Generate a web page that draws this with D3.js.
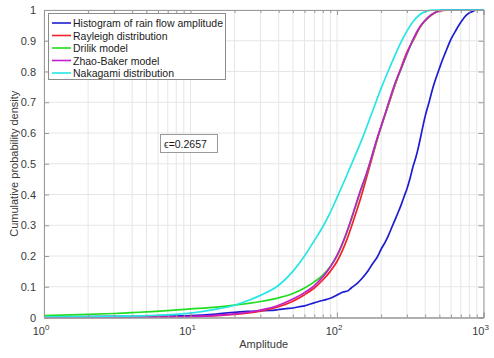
<!DOCTYPE html>
<html>
<head>
<meta charset="utf-8">
<script src="https://cdn.jsdelivr.net/npm/d3@7"></script>
<style>
  html, body { margin: 0; padding: 0; background: #fff; }
  svg { display: block; font-family: "Liberation Sans", Arial, sans-serif; }
</style>
</head>
<body>
<svg id="chart" width="494" height="358"></svg>
<script>
// Cumulative distributions of rain-flow amplitude (x: amplitude, y: CDF)
const histAmp = [1, 2, 5, 10, 15, 20, 25, 30, 35, 40, 45, 50, 55, 60, 68, 75, 85, 92, 100, 110, 118, 125, 138, 150, 163, 175, 188, 200, 212, 225, 238, 250, 262, 275, 288, 300, 315, 330, 345, 360, 380, 400, 425, 450, 475, 500, 525, 550, 575, 600, 650, 700, 770, 850, 900, 1000];
const histCdf = [0.002, 0.003, 0.004, 0.006, 0.011, 0.017, 0.020, 0.022, 0.023, 0.026, 0.029, 0.031, 0.035, 0.038, 0.046, 0.052, 0.059, 0.064, 0.073, 0.083, 0.086, 0.096, 0.112, 0.130, 0.152, 0.175, 0.196, 0.222, 0.243, 0.268, 0.296, 0.320, 0.343, 0.368, 0.395, 0.418, 0.452, 0.490, 0.520, 0.555, 0.607, 0.655, 0.700, 0.745, 0.780, 0.810, 0.838, 0.862, 0.885, 0.905, 0.935, 0.960, 0.985, 0.996, 1.0, 1.0];

const rayAmp = [1, 5, 10, 15, 20, 25, 30, 40, 50, 60, 70, 80, 90, 100, 115, 130, 145, 168, 194, 224, 268, 300, 337, 370, 420, 470, 530, 600, 1000];
const rayCdf = [0.0, 0.001, 0.003, 0.006, 0.010, 0.015, 0.021, 0.035, 0.053, 0.074, 0.096, 0.122, 0.150, 0.182, 0.245, 0.318, 0.388, 0.495, 0.600, 0.690, 0.800, 0.862, 0.908, 0.945, 0.975, 0.992, 0.999, 1.0, 1.0];

const drilikAmp = [1, 2, 3, 5, 10, 15, 20, 30, 40, 50, 60, 70, 80, 90, 100, 115, 130, 145, 160, 185, 215, 250, 276, 300, 333, 370, 420, 470, 530, 1000];
const drilikCdf = [0.006, 0.010, 0.013, 0.018, 0.028, 0.034, 0.040, 0.052, 0.064, 0.078, 0.096, 0.116, 0.138, 0.166, 0.200, 0.268, 0.342, 0.412, 0.470, 0.570, 0.666, 0.762, 0.812, 0.856, 0.906, 0.946, 0.977, 0.993, 1.0, 1.0];

const zhaoAmp = [1, 5, 10, 15, 20, 25, 30, 40, 50, 60, 70, 80, 90, 100, 115, 130, 145, 160, 185, 215, 250, 276, 300, 333, 370, 420, 470, 530, 1000];
const zhaoCdf = [0.0, 0.001, 0.003, 0.007, 0.012, 0.017, 0.024, 0.040, 0.060, 0.081, 0.104, 0.132, 0.164, 0.202, 0.270, 0.345, 0.415, 0.472, 0.572, 0.668, 0.764, 0.814, 0.858, 0.908, 0.947, 0.977, 0.993, 1.0, 1.0];

const nakaAmp = [1, 2, 3, 5, 8, 10, 15, 20, 25, 30, 40, 50, 60, 70, 80, 90, 100, 126, 151, 173, 200, 223, 250, 280, 330, 370, 420, 450, 1000];
const nakaCdf = [0.002, 0.003, 0.004, 0.006, 0.010, 0.014, 0.027, 0.040, 0.056, 0.072, 0.105, 0.150, 0.200, 0.250, 0.295, 0.342, 0.390, 0.500, 0.590, 0.665, 0.745, 0.800, 0.855, 0.905, 0.962, 0.986, 0.998, 1.0, 1.0];

const seriesNames = ["Histogram of rain flow amplitude", "Rayleigh distribution", "Drilik model", "Zhao-Baker model", "Nakagami distribution"];
const seriesColors = ["#1c1cd2", "#f2222a", "#22dd22", "#c21fcb", "#26e6e6"];
const yTicks = [0, 0.1, 0.2, 0.3, 0.4, 0.5, 0.6, 0.7, 0.8, 0.9, 1];
const xDecades = [1, 10, 100, 1000];
const xDecadeExp = ["0", "1", "2", "3"];
const epsilonLabel = "\u03F5=0.2657";

const series = [
  [histAmp, histCdf], [rayAmp, rayCdf], [drilikAmp, drilikCdf], [zhaoAmp, zhaoCdf], [nakaAmp, nakaCdf]
];

const svg = d3.select("#chart");
const plotL = 44, plotR = 483.5, plotT = 10, plotB = 317.5;

const x = d3.scaleLog().domain([1, 1000]).range([plotL, plotR]);
const y = d3.scaleLinear().domain([0, 1]).range([plotB, plotT]);

// minor tick positions 2..9 per decade
const minorVals = [];
for (let d = 0; d < 3; d++) for (let m = 2; m <= 9; m++) minorVals.push(m * Math.pow(10, d));

const grid = svg.append("g");
grid.selectAll("line.vx").data(minorVals.concat(xDecades)).enter().append("line")
  .attr("x1", d => x(d)).attr("x2", d => x(d))
  .attr("y1", plotT).attr("y2", plotB)
  .attr("stroke", "#e6e6e6").attr("stroke-width", 1);
grid.selectAll("line.hy").data(yTicks).enter().append("line")
  .attr("x1", plotL).attr("x2", plotR)
  .attr("y1", d => y(d)).attr("y2", d => y(d))
  .attr("stroke", "#e6e6e6").attr("stroke-width", 1);

// Curves
const line = d3.line().x(d => x(d[0])).y(d => y(d[1])).curve(d3.curveMonotoneX);
series.forEach((s, i) => {
  const pts = s[0].map((a, k) => [a, s[1][k]]);
  svg.append("path").datum(pts)
    .attr("d", line)
    .attr("fill", "none")
    .attr("stroke", seriesColors[i])
    .attr("stroke-width", 1.7)
    .attr("stroke-linejoin", "round");
});

// Axes box and inward ticks
const axisColor = "#9a9a9a";
const textColor = "#3a3a3a";
const yLeft = d3.axisLeft(y).tickValues(yTicks).tickSize(-5).tickPadding(8).tickFormat(d3.format("~g"));
const gy = svg.append("g").attr("transform", `translate(${plotL},0)`).call(yLeft);
const yRight = d3.axisRight(y).tickValues(yTicks).tickSize(-5).tickFormat("");
svg.append("g").attr("transform", `translate(${plotR},0)`).call(yRight);

const xBottom = d3.axisBottom(x).tickValues(xDecades).tickSize(-5).tickFormat("");
svg.append("g").attr("transform", `translate(0,${plotB})`).call(xBottom);
const xTop = d3.axisTop(x).tickValues(xDecades).tickSize(-5).tickFormat("");
svg.append("g").attr("transform", `translate(0,${plotT})`).call(xTop);
const xBottomMinor = d3.axisBottom(x).tickValues(minorVals).tickSize(-3).tickFormat("");
svg.append("g").attr("transform", `translate(0,${plotB})`).call(xBottomMinor);
const xTopMinor = d3.axisTop(x).tickValues(minorVals).tickSize(-3).tickFormat("");
svg.append("g").attr("transform", `translate(0,${plotT})`).call(xTopMinor);

svg.selectAll(".domain").attr("stroke", axisColor);
svg.selectAll(".tick line").attr("stroke", axisColor);
gy.selectAll(".tick text").attr("fill", textColor).style("font-size", "11px");

// Decade labels with superscript exponents
const xl = svg.append("g");
xDecades.forEach((v, i) => {
  const t = xl.append("text")
    .attr("x", x(v) - 3).attr("y", plotB + 17.5)
    .attr("text-anchor", "middle")
    .attr("fill", textColor)
    .style("font-size", "11px");
  t.append("tspan").text("10");
  t.append("tspan").attr("dy", -5).style("font-size", "8px").text(xDecadeExp[i]);
});

// Axis titles
svg.append("text")
  .attr("x", (plotL + plotR) / 2).attr("y", 348)
  .attr("text-anchor", "middle")
  .attr("fill", textColor)
  .style("font-size", "11px")
  .text("Amplitude");
svg.append("text")
  .attr("transform", `translate(18,${(plotT + plotB) / 2}) rotate(-90)`)
  .attr("text-anchor", "middle")
  .attr("fill", textColor)
  .style("font-size", "11px")
  .text("Cumulative probability density");

// Legend
const lg = svg.append("g");
lg.append("rect").attr("x", 48.5).attr("y", 13.5).attr("width", 177).attr("height", 66)
  .attr("fill", "#fff").attr("stroke", "#8c8c8c").attr("stroke-width", 1);
seriesNames.forEach((name, i) => {
  const yy = 23 + i * 12.5;
  lg.append("line").attr("x1", 52).attr("x2", 71).attr("y1", yy).attr("y2", yy)
    .attr("stroke", seriesColors[i]).attr("stroke-width", 1.6);
  lg.append("text").attr("x", 73).attr("y", yy + 4)
    .attr("fill", "#1a1a1a").style("font-size", "10.5px").text(name);
});

// Annotation box
const ann = svg.append("g");
ann.append("rect").attr("x", 160.5).attr("y", 134.5).attr("width", 57).attr("height", 18)
  .attr("fill", "#fff").attr("stroke", "#9a9a9a").attr("stroke-width", 1);
ann.append("text").attr("x", 164).attr("y", 147.5)
  .attr("fill", "#1a1a1a").style("font-size", "10.5px").text(epsilonLabel);
</script>
</body>
</html>
